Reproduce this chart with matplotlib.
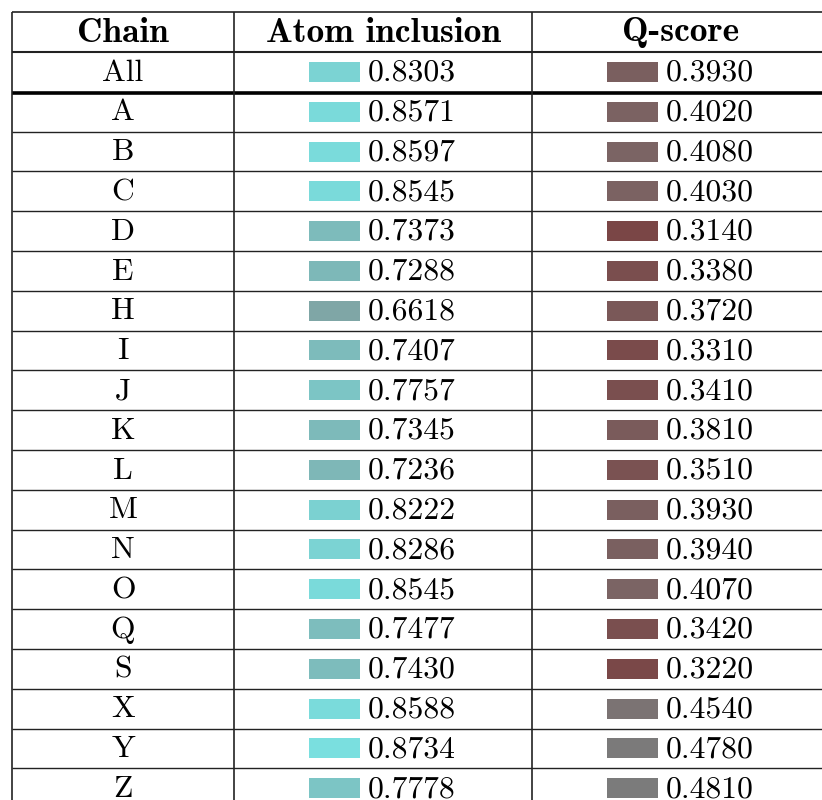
import matplotlib
matplotlib.use("Agg")
import matplotlib.pyplot as plt
from matplotlib.colors import LinearSegmentedColormap, Normalize
import numpy as np

# ---- data ----
chains = ["All", "A", "B", "C", "D", "E", "H", "I", "J", "K", "L", "M", "N", "O",
          "Q", "S", "X", "Y", "Z"]
atom_inclusion = [0.8303, 0.8571, 0.8597, 0.8545, 0.7373, 0.7288, 0.6618, 0.7407,
                  0.7757, 0.7345, 0.7236, 0.8222, 0.8286, 0.8545, 0.7477, 0.7430,
                  0.8588, 0.8734, 0.7778]
q_score = [0.3930, 0.4020, 0.4080, 0.4030, 0.3140, 0.3380, 0.3720, 0.3310, 0.3410,
           0.3810, 0.3510, 0.3930, 0.3940, 0.4070, 0.3420, 0.3220, 0.4540, 0.4780,
           0.4810]
headers = ["Chain", "Atom inclusion", "Q-score"]

# ---- colour scales ----
cmap_atom = LinearSegmentedColormap.from_list("atom", ["#7fa6a6", "#7adfdf"])
norm_atom = Normalize(vmin=0.66, vmax=0.875)
cmap_q = LinearSegmentedColormap.from_list("q", ["#7a4646", "#7b7b7b"])
norm_q = Normalize(vmin=0.314, vmax=0.48)

W, H = 822, 800
fig = plt.figure(figsize=(W / 100, H / 100), dpi=100)
ax = fig.add_axes([0, 0, 1, 1])
ax.set_xlim(0, W)
ax.set_ylim(H, 0)
ax.axis("off")

left, right = 12, 830
col_edges = [left, 234, 532, right]
col_centers = [(col_edges[i] + col_edges[i + 1]) / 2 for i in range(3)]
top, head_bot = 12, 52
row_h = 39.8
n = len(chains)
row_tops = head_bot + row_h * np.arange(n)
row_centers = row_tops + row_h / 2

fs = 22.8
reg = "cmr10"
bold = "cmb10"

# header
for c, h in zip(col_centers, headers):
    ax.text(c, (top + head_bot) / 2 + 1, h, ha="center", va="center",
            fontsize=25.5, family=bold)

# bars
colors_atom = cmap_atom(norm_atom(np.array(atom_inclusion)))
colors_q = cmap_q(norm_q(np.array(q_score)))
ax.barh(row_centers, 51, left=309, height=20, color=colors_atom)
ax.barh(row_centers, 51, left=607, height=20, color=colors_q)

for i in range(n):
    yc = row_centers[i]
    ax.text(col_centers[0], yc + 1, chains[i], ha="center", va="center",
            fontsize=fs, family=reg)
    ax.text(368, yc + 1, f"{atom_inclusion[i]:.4f}", ha="left", va="center",
            fontsize=fs, family=reg)
    ax.text(666, yc + 1, f"{q_score[i]:.4f}", ha="left", va="center",
            fontsize=fs, family=reg)

# grid lines
lc = "#222222"
ax.plot([left, right], [top, top], color=lc, lw=1.2, solid_capstyle="butt")
ax.plot([left, right], [head_bot, head_bot], color=lc, lw=1.5, solid_capstyle="butt")
ax.plot([left, right], [row_tops[1] + 1, row_tops[1] + 1], color="black", lw=2.6,
        solid_capstyle="butt")
for t in row_tops[2:]:
    ax.plot([left, right], [t, t], color=lc, lw=1.0, solid_capstyle="butt")
ax.plot([left, right], [row_tops[-1] + row_h, row_tops[-1] + row_h], color=lc, lw=1.0)
for x in col_edges:
    ax.plot([x, x], [top, H + 10], color=lc, lw=1.2, solid_capstyle="butt")

fig.savefig("out.png", dpi=100)
